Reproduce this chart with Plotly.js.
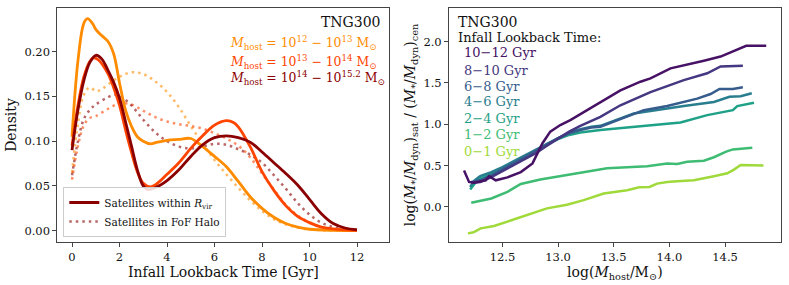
<!DOCTYPE html>
<html>
<head>
<meta charset="utf-8">
<script src="https://cdn.plot.ly/plotly-3.0.1.min.js"></script>
<style>html,body{margin:0;padding:0;background:#fff;}#chart{width:789px;height:285px;}</style>
</head>
<body>
<div id="chart"></div>
<script>
// ---------- Left panel: KDE of infall lookback time ----------
var tLowSolid  = [0,0.25,0.5,0.65,0.85,1.0,1.25,1.5,1.75,2.0,2.25,2.5,2.75,3.0,3.3,3.6,4.0,4.5,5.0,5.5,6.0,6.5,7.0,7.5,8.0,8.5,9.0,9.5,10,11,12];
var dLowSolid  = [0.105,0.19,0.232,0.237,0.232,0.225,0.218,0.212,0.198,0.165,0.135,0.117,0.105,0.100,0.097,0.099,0.101,0.102,0.103,0.094,0.083,0.0715,0.055,0.038,0.025,0.015,0.008,0.004,0.0016,0.0003,0];

var tMidSolid  = [0,0.25,0.5,0.75,0.9,1.1,1.5,1.75,2.0,2.25,2.5,2.75,3.0,3.3,3.6,4.0,4.5,5.0,5.5,6.0,6.5,6.8,7.0,7.5,8.0,8.5,9.0,9.5,10,10.5,11,11.5,12];
var dMidSolid  = [0.095,0.14,0.172,0.189,0.193,0.191,0.176,0.16,0.140,0.113,0.088,0.066,0.053,0.049,0.053,0.063,0.076,0.092,0.106,0.118,0.123,0.121,0.116,0.094,0.066,0.045,0.028,0.016,0.009,0.004,0.002,0.001,0.0005];

var tHighSolid = [0,0.25,0.5,0.75,1.0,1.25,1.5,1.75,2.0,2.25,2.5,2.75,3.0,3.2,3.5,4.0,4.5,5.0,5.5,6.0,6.5,7.0,7.5,8.0,8.5,9.0,9.5,10,10.5,11,11.5,12];
var dHighSolid = [0.090,0.135,0.168,0.188,0.196,0.192,0.180,0.166,0.148,0.122,0.095,0.068,0.050,0.046,0.048,0.056,0.068,0.083,0.096,0.104,0.106,0.104,0.099,0.088,0.076,0.064,0.051,0.035,0.019,0.008,0.003,0.001];

var tLowDot  = [0,0.25,0.5,0.75,1.0,1.25,1.5,2.0,2.5,3.0,3.5,4.0,4.5,5.0,5.5,6.0,6.5,7.0,7.5,8.0,8.5,9.0,9.5,10,11,12];
var dLowDot  = [0.065,0.12,0.152,0.160,0.156,0.158,0.163,0.172,0.177,0.175,0.167,0.155,0.138,0.117,0.097,0.079,0.063,0.048,0.034,0.022,0.013,0.007,0.0035,0.0015,0.0003,0];

var tMidDot  = [0,0.25,0.5,0.75,1.0,1.5,2.0,2.5,3.0,3.5,4.0,4.5,5.0,5.5,6.0,6.5,7.0,7.5,8.0,8.5,9.0,9.5,10,10.5,11,12];
var dMidDot  = [0.057,0.095,0.118,0.126,0.128,0.136,0.142,0.141,0.134,0.127,0.122,0.119,0.117,0.114,0.109,0.103,0.095,0.082,0.064,0.046,0.029,0.017,0.009,0.004,0.002,0.0005];

var tHighDot = [0,0.25,0.5,0.75,1.0,1.5,1.8,2.0,2.5,3.0,3.5,4.0,4.5,5.0,5.5,6.0,6.5,7.0,7.5,8.0,8.5,9.0,9.5,10,10.5,11,11.5,12];
var dHighDot = [0.062,0.10,0.125,0.135,0.141,0.149,0.152,0.151,0.140,0.124,0.110,0.100,0.094,0.092,0.094,0.097,0.096,0.091,0.085,0.076,0.062,0.047,0.031,0.018,0.009,0.004,0.002,0.001];

var massLabels = [
  '<i>M</i><sub>host</sub> = 10<sup>12</sup> − 10<sup>13</sup> M<sub>⊙</sub>',
  '<i>M</i><sub>host</sub> = 10<sup>13</sup> − 10<sup>14</sup> M<sub>⊙</sub>',
  '<i>M</i><sub>host</sub> = 10<sup>14</sup> − 10<sup>15.2</sup> M<sub>⊙</sub>'
];
var legendNames = ['Satellites within <i>R</i><sub>vir</sub>', 'Satellites in FoF Halo'];

// ---------- Right panel: ratio vs host mass ----------
var binLabels = ['10−12 Gyr','8−10 Gyr','6−8 Gyr','4−6 Gyr','2−4 Gyr','1−2 Gyr','0−1 Gyr'];

var m1012 = [12.155,12.2,12.245,12.35,12.38,12.44,12.545,12.665,12.77,12.86,12.93,13.02,13.11,13.38,13.56,13.74,13.83,14.01,14.19,14.31,14.46,14.57,14.69,14.87];
var r1012 = [0.44,0.30,0.29,0.32,0.37,0.32,0.356,0.42,0.525,0.77,0.91,0.99,1.05,1.26,1.41,1.515,1.556,1.677,1.738,1.77,1.82,1.88,1.95,1.95];

var m810 = [12.22,12.3,12.4,12.5,12.6,12.7,12.8,12.9,13.0,13.1,13.2,13.3,13.38,13.56,13.83,14.13,14.34,14.46,14.66];
var r810 = [0.29,0.30,0.36,0.43,0.50,0.57,0.65,0.74,0.83,0.91,0.98,1.04,1.09,1.23,1.39,1.535,1.617,1.70,1.71];

var m68 = [12.22,12.3,12.4,12.5,12.6,12.7,12.8,12.9,13.0,13.1,13.2,13.3,13.38,13.77,13.98,14.25,14.37,14.45,14.57,14.66];
var r68 = [0.30,0.32,0.38,0.45,0.53,0.60,0.68,0.76,0.83,0.89,0.93,0.96,0.97,1.17,1.22,1.31,1.366,1.427,1.427,1.447];

var m46 = [12.21,12.25,12.3,12.4,12.5,12.6,12.7,12.8,12.9,13.0,13.1,13.2,13.3,13.38,13.68,14.13,14.40,14.54,14.64,14.74];
var r46 = [0.24,0.32,0.37,0.42,0.48,0.55,0.62,0.70,0.77,0.84,0.90,0.94,0.97,0.98,1.13,1.22,1.27,1.333,1.34,1.375];

var m24 = [12.21,12.25,12.3,12.4,12.5,12.6,12.7,12.8,12.9,13.0,13.1,13.2,13.3,13.38,14.1,14.34,14.57,14.61,14.76];
var r24 = [0.21,0.28,0.34,0.40,0.46,0.53,0.61,0.69,0.76,0.82,0.87,0.90,0.92,0.93,1.02,1.11,1.17,1.22,1.26];

var m12 = [12.22,12.4,12.545,12.665,12.84,13.14,13.44,13.80,13.98,14.07,14.16,14.31,14.40,14.51,14.57,14.745];
var r12 = [0.048,0.10,0.18,0.275,0.33,0.40,0.465,0.49,0.525,0.517,0.545,0.557,0.60,0.667,0.695,0.715];

var m01 = [12.19,12.24,12.305,12.425,12.545,12.725,12.90,13.08,13.23,13.41,13.56,13.62,13.73,13.82,13.89,13.98,14.07,14.22,14.40,14.52,14.58,14.64,14.845];
var r01 = [-0.323,-0.31,-0.262,-0.234,-0.18,-0.10,-0.02,0.025,0.08,0.16,0.195,0.20,0.235,0.24,0.28,0.30,0.31,0.32,0.37,0.405,0.45,0.505,0.50];

// ---------- styles ----------
var FONT = 'DejaVu Serif, Liberation Serif, serif';
var cLow = '#ff8c00', cMid = '#ff4500', cHigh = '#8b0000';
var cLowDot = 'rgba(255,140,0,0.6)', cMidDot = 'rgba(255,69,0,0.6)', cHighDot = 'rgba(139,0,0,0.6)';
var viridis = ['#471265','#453781','#365c8d','#287d8e','#1fa187','#3fbc73','#9fda3a'];
var DOT = '2.5px,4px';

function kde(x, y, color, dash) {
  return {x: x, y: y, type: 'scatter', mode: 'lines', xaxis: 'x', yaxis: 'y',
          line: {color: color, width: dash ? 2.5 : 2.8, dash: dash || 'solid', shape: 'spline', smoothing: 1},
          showlegend: false, hoverinfo: 'skip'};
}
var traces = [
  kde(tLowDot, dLowDot, cLowDot, DOT),
  kde(tMidDot, dMidDot, cMidDot, DOT),
  kde(tHighDot, dHighDot, cHighDot, DOT),
  kde(tLowSolid, dLowSolid, cLow),
  kde(tMidSolid, dMidSolid, cMid),
  kde(tHighSolid, dHighSolid, cHigh)
];
traces.push({x: [null], y: [null], type: 'scatter', mode: 'lines', xaxis: 'x', yaxis: 'y',
             name: legendNames[0], line: {color: cHigh, width: 2.8}, showlegend: true});
traces.push({x: [null], y: [null], type: 'scatter', mode: 'lines', xaxis: 'x', yaxis: 'y',
             name: legendNames[1], line: {color: cHighDot, width: 2.5, dash: DOT}, showlegend: true});

var rightX = [m1012, m810, m68, m46, m24, m12, m01];
var rightY = [r1012, r810, r68, r46, r24, r12, r01];
for (var i = 6; i >= 0; i--) {
  traces.push({x: rightX[i], y: rightY[i], type: 'scatter', mode: 'lines', xaxis: 'x2', yaxis: 'y2',
               line: {color: viridis[i], width: 2.5}, showlegend: false, name: binLabels[i], hoverinfo: 'skip'});
}

var dom = [0.1519, 0.9709];
var axCommon = {showline: true, mirror: true, linecolor: '#444', linewidth: 1, showgrid: false, zeroline: false,
                ticks: 'outside', ticklen: 4, tickcolor: '#444', tickfont: {family: FONT, size: 11.5, color: '#111'}};

var annotations = [
  {xref: 'paper', yref: 'paper', x: 382.7/789, y: 1 - 22.3/285, xanchor: 'right', yanchor: 'middle',
   text: 'TNG300', showarrow: false, font: {family: FONT, size: 14, color: '#111'}},
  {xref: 'paper', yref: 'paper', x: 456/789, y: 1 - 21.7/285, xanchor: 'left', yanchor: 'middle',
   text: 'TNG300', showarrow: false, font: {family: FONT, size: 14, color: '#111'}},
  {xref: 'paper', yref: 'paper', x: 456/789, y: 1 - 37.3/285, xanchor: 'left', yanchor: 'middle',
   text: 'Infall Lookback Time:', showarrow: false, font: {family: FONT, size: 13, color: '#111'}}
];
var massColors = [cLow, cMid, cHigh];
var massY = [43.3, 61.7, 78.3];
for (var k = 0; k < 3; k++) {
  annotations.push({xref: 'paper', yref: 'paper', x: 228/789, y: 1 - massY[k]/285, xanchor: 'left', yanchor: 'middle',
    text: massLabels[k], showarrow: false, font: {family: FONT, size: 12.4, color: massColors[k]}});
}
var binY = [52.7, 70, 86, 101.7, 118.3, 135, 151.7];
for (var j = 0; j < 7; j++) {
  annotations.push({xref: 'paper', yref: 'paper', x: 462/789, y: 1 - binY[j]/285, xanchor: 'left', yanchor: 'middle',
    text: binLabels[j], showarrow: false, font: {family: FONT, size: 13, color: viridis[j]}});
}

var layout = {
  width: 789, height: 285, margin: {l: 0, r: 0, t: 0, b: 0},
  paper_bgcolor: '#fff', plot_bgcolor: '#fff',
  font: {family: FONT, color: '#111'},
  xaxis: Object.assign({}, axCommon, {domain: [57.3/789, 389.3/789], anchor: 'y', range: [-0.62, 13.36],
          tickvals: [0,2,4,6,8,10,12], ticktext: ['0','2','4','6','8','10','12'],
          title: {text: 'Infall Lookback Time [Gyr]', font: {family: FONT, size: 14, color: '#111'}, standoff: 4}}),
  yaxis: Object.assign({}, axCommon, {domain: dom, anchor: 'x', range: [-0.0123, 0.2485],
          tickvals: [0,0.05,0.10,0.15,0.20], ticktext: ['0.00','0.05','0.10','0.15','0.20'],
          title: {text: 'Density', font: {family: FONT, size: 14, color: '#111'}, standoff: 4}}),
  xaxis2: Object.assign({}, axCommon, {domain: [449/789, 780.7/789], anchor: 'y2', range: [12.02, 15.0],
          tickvals: [12.5,13,13.5,14,14.5], ticktext: ['12.5','13.0','13.5','14.0','14.5'],
          title: {text: 'log(<i>M</i><sub>host</sub>/M<sub>⊙</sub>)', font: {family: FONT, size: 14, color: '#111'}, standoff: 4}}),
  yaxis2: Object.assign({}, axCommon, {domain: dom, anchor: 'x2', range: [-0.424, 2.405],
          tickvals: [0,0.5,1,1.5,2], ticktext: ['0.0','0.5','1.0','1.5','2.0'],
          title: {text: 'log(<i>M</i><sub>*</sub>/<i>M</i><sub>dyn</sub>)<sub>sat</sub> / (<i>M</i><sub>*</sub>/<i>M</i><sub>dyn</sub>)<sub>cen</sub>',
                  font: {family: FONT, size: 14, color: '#111'}, standoff: 4}}),
  showlegend: true,
  legend: {x: 63.3/789, y: 1 - 237/285, xanchor: 'left', yanchor: 'bottom',
           bgcolor: 'rgba(255,255,255,0.85)', bordercolor: '#cccccc', borderwidth: 1,
           font: {family: FONT, size: 10.5, color: '#111'}, tracegroupgap: 0, itemwidth: 30},
  annotations: annotations
};

Plotly.newPlot('chart', traces, layout, {displayModeBar: false, staticPlot: true});
</script>
</body>
</html>
